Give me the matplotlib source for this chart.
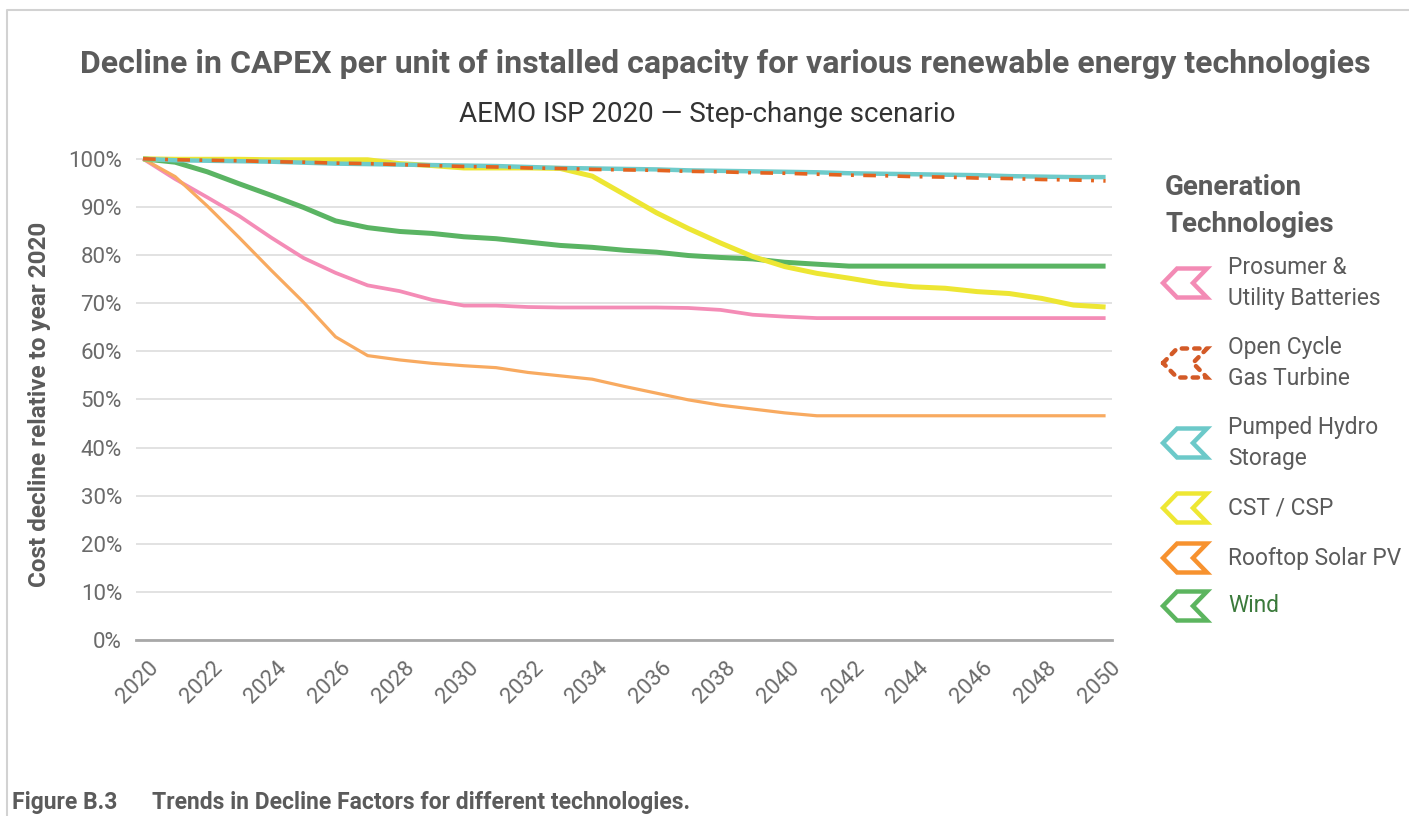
import matplotlib.pyplot as plt
from matplotlib.patches import Polygon
from matplotlib.ticker import FuncFormatter
from matplotlib.transforms import ScaledTranslation
import numpy as np

plt.rcParams['font.family'] = ['Roboto', 'DejaVu Sans']

years = np.arange(2020, 2051)

batteries = [100, 95.8, 92.0, 88.1, 83.6, 79.4, 76.3, 73.7, 72.5, 70.7,
             69.5, 69.5, 69.2, 69.1, 69.1, 69.1, 69.1, 69.0, 68.6, 67.6,
             67.2, 66.9, 66.9, 66.9, 66.9, 66.9, 66.9, 66.9, 66.9, 66.9, 66.9]
ocgt = [100, 99.8, 99.7, 99.6, 99.4, 99.3, 99.1, 99.0, 98.8, 98.6,
        98.4, 98.3, 98.1, 98.0, 97.8, 97.7, 97.6, 97.4, 97.3, 97.1,
        97.0, 96.8, 96.6, 96.5, 96.3, 96.2, 96.0, 95.9, 95.7, 95.6, 95.4]
pumped_hydro = [100, 99.7, 99.6, 99.5, 99.4, 99.2, 99.0, 98.9, 98.8, 98.7,
                98.6, 98.5, 98.3, 98.1, 98.0, 97.9, 97.8, 97.6, 97.5, 97.4,
                97.3, 97.2, 97.0, 96.9, 96.8, 96.7, 96.6, 96.4, 96.3, 96.2, 96.2]
cst_csp = [100, 99.9, 99.9, 99.9, 99.8, 99.8, 99.8, 99.8, 99.0, 98.6,
           98.1, 98.1, 98.1, 98.0, 96.4, 92.6, 88.8, 85.5, 82.5, 79.7,
           77.6, 76.2, 75.2, 74.1, 73.4, 73.1, 72.4, 72.0, 71.0, 69.6, 69.2]
rooftop_pv = [100, 96.3, 90.2, 83.6, 76.8, 70.2, 63.0, 59.1, 58.2, 57.5,
              57.0, 56.6, 55.6, 54.9, 54.2, 52.7, 51.3, 49.9, 48.8, 48.0,
              47.2, 46.6, 46.6, 46.6, 46.6, 46.6, 46.6, 46.6, 46.6, 46.6, 46.6]
wind = [100, 99.3, 97.3, 94.8, 92.4, 89.9, 87.1, 85.7, 84.9, 84.5,
        83.8, 83.4, 82.7, 82.0, 81.6, 81.0, 80.6, 79.9, 79.5, 79.2,
        78.5, 78.1, 77.7, 77.7, 77.7, 77.7, 77.7, 77.7, 77.7, 77.7, 77.7]

legend_labels = ['Prosumer &\nUtility Batteries', 'Open Cycle\nGas Turbine',
                 'Pumped Hydro\nStorage', 'CST / CSP', 'Rooftop Solar PV', 'Wind']

text_col = '#5b5b5b'

fig = plt.figure(figsize=(14.09, 8.16), dpi=100)
ax = fig.add_axes([136 / 1409, 176 / 816, 976 / 1409, 486 / 816])

ax.plot(years, batteries, color='#F48CB6', lw=2.7, solid_capstyle='butt', zorder=3)
ax.plot(years, rooftop_pv, color='#F8AA60', lw=2.3, solid_capstyle='butt', zorder=3)
ax.plot(years, wind, color='#5AB463', lw=3.6, solid_capstyle='butt', zorder=3)
ax.plot(years, cst_csp, color='#EDE633', lw=3.6, solid_capstyle='butt', zorder=3)
ax.plot(years, pumped_hydro, color='#6ECBCA', lw=3.2, solid_capstyle='butt', zorder=3)
ax.plot(years, ocgt, color='#E4631F', lw=2.6, linestyle=(0, (3.5, 2.6, 0.8, 2.6)), zorder=4)

ax.set_xlim(2019.78, 2050.2)
ax.set_ylim(0, 101)
ax.set_yticks(np.arange(0, 101, 10))
ax.yaxis.set_major_formatter(FuncFormatter(lambda v, p: f'{v:.0f}%'))
ax.set_xticks(np.arange(2020, 2051, 2))
ax.grid(axis='y', color='#dadada', lw=1.1)
ax.set_axisbelow(True)
for s in ['top', 'right', 'left']:
    ax.spines[s].set_visible(False)
ax.spines['bottom'].set_color('#a8a8a8')
ax.spines['bottom'].set_linewidth(2)
ax.tick_params(length=0, labelsize=16, labelcolor='#6a6a6a')
ax.tick_params(axis='y', pad=10)
ax.tick_params(axis='x', pad=18)
shift = ScaledTranslation(12 / 100, 0, fig.dpi_scale_trans)
for lab in ax.get_xticklabels():
    lab.set_rotation(45)
    lab.set_ha('right')
    lab.set_va('center')
    lab.set_rotation_mode('anchor')
    lab.set_transform(lab.get_transform() + shift)

# overlay in pixel coordinates for titles, border and legend
ov = fig.add_axes([0, 0, 1, 1], zorder=-1)
ov.set_xlim(0, 1409)
ov.set_ylim(816, 0)
ov.axis('off')

ov.plot([7, 7, 1409], [816, 10, 10], color='#d2d2d2', lw=1.5)

ov.text(725, 64, 'Decline in CAPEX per unit of installed capacity for various renewable energy technologies',
        ha='center', va='center', fontsize=23, fontweight='bold', color=text_col)
ov.text(707, 114, 'AEMO ISP 2020 \u2014 Step-change scenario', ha='center', va='center',
        fontsize=20, color='#333333')
ov.text(40, 404, 'Cost decline relative to year 2020', ha='center', va='center', rotation=90,
        fontsize=17.5, fontweight='bold', color=text_col)
ov.text(12, 803, 'Figure B.3', ha='left', va='center', fontsize=16.5,
        fontweight='bold', color=text_col)
ov.text(152, 803, 'Trends in Decline Factors for different technologies.', ha='left',
        va='center', fontsize=16.5, fontweight='bold', color=text_col)

ov.text(1165, 206, 'Generation\nTechnologies', ha='left', va='center', fontsize=20,
        fontweight='bold', color=text_col, linespacing=1.43)

marker_cols = ['#F38BB5', '#D35A27', '#6CC9C9', '#EEE733', '#F7922F', '#5CB55F']
marker_y = [283, 363, 443, 508, 558, 606]
shape = np.array([[0, 0], [0.32, -0.5], [1, -0.5], [0.68, 0], [1, 0.5], [0.32, 0.5]])
for i, (lab, col, my) in enumerate(zip(legend_labels, marker_cols, marker_y)):
    pts = shape * [44, 29] + [1163, my]
    if i == 1:
        ov.add_patch(Polygon(pts, closed=True, fill=False, edgecolor=col, lw=3.2,
                             linestyle=(0, (1.2, 1.6)), capstyle='round'))
    else:
        ov.add_patch(Polygon(pts, closed=True, fill=False, edgecolor=col, lw=3.2,
                             joinstyle='miter'))
    ov.text(1228, my, lab, ha='left', va='center', fontsize=16.4,
            color='#3B7A3B' if lab == 'Wind' else text_col, linespacing=1.45)

plt.savefig('out.png', dpi=100, facecolor='white')
